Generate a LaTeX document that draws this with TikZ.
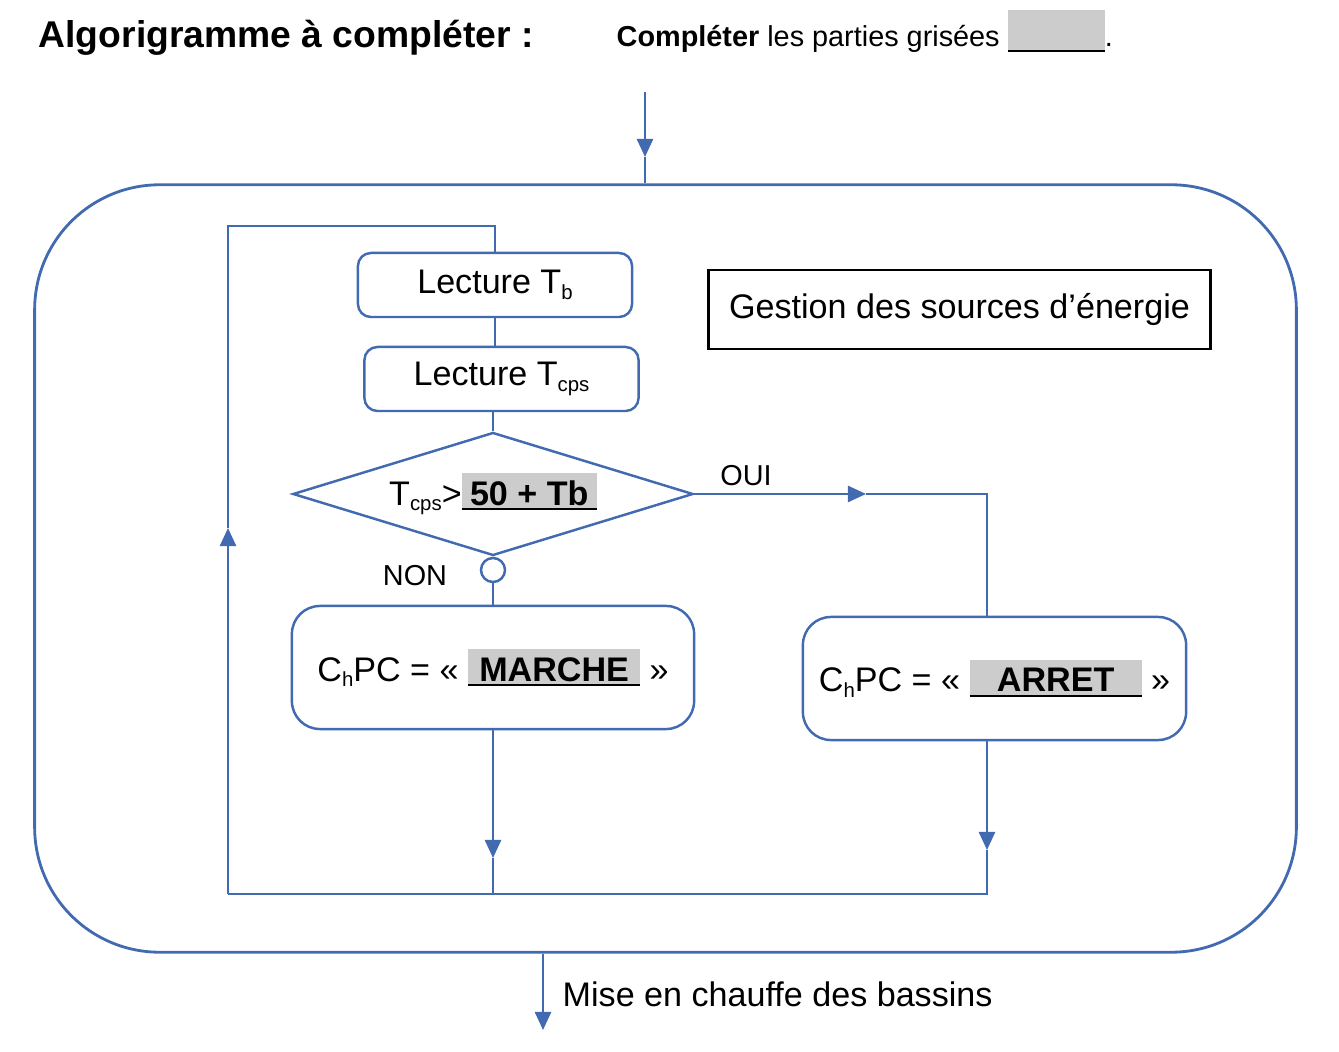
\documentclass[tikz,border=0pt]{standalone}
\usepackage{fontspec}
\setmainfont{Liberation Sans}
\usetikzlibrary{arrows.meta,shapes.geometric}
\definecolor{flowblue}{RGB}{65,106,176}
\definecolor{fieldgray}{RGB}{204,204,204}
% champ grise a completer
\newcommand{\grise}[2]{{\setlength{\fboxsep}{0pt}\colorbox{fieldgray}{\makebox[#1]{\rule[-0.15em]{0pt}{1.1em}\textbf{#2}}}}\llap{\rule[-0.15em]{#1}{0.6pt}}}
\newcommand{\vide}{{\setlength{\fboxsep}{0pt}\colorbox{fieldgray}{\rule[-0.17em]{0pt}{1.46em}\hspace{0.97cm}}}\llap{\rule[-0.17em]{0.97cm}{0.5pt}}}
\newcommand{\sub}[1]{\raisebox{-0.3ex}{\fontsize{5.8}{6}\selectfont #1}}
\tikzset{
  txt/.style={font=\fontsize{9.7}{11}\selectfont},
  petit/.style={font=\fontsize{8.2}{10}\selectfont},
  flow/.style={flowblue, line width=0.7pt},
  tip/.style={flow, -{Triangle[width=0.16cm,length=0.18cm]}},
  lecture/.style={draw=flowblue, line width=0.7pt, rounded corners=0.13cm, minimum width=2.74cm, minimum height=0.64cm, inner sep=0, txt},
  action/.style={draw=flowblue, line width=0.7pt, rounded corners=0.28cm, minimum height=1.23cm, inner sep=0, txt},
}
\begin{document}
\begin{tikzpicture}[x=0.01cm, y=-0.01cm]
\useasboundingbox (0,0) rectangle (1339,1052);

% titres
\node[anchor=base west, inner sep=0, font=\bfseries\fontsize{10.6}{12}\selectfont] (titre) at (38,48) {Algorigramme à compléter :};
\node[anchor=base west, inner sep=0, petit] (consigne) at (616,47) {\textbf{Compléter} les parties grisées \vide.};

% cadre general
\node[draw=flowblue, line width=0.8pt, rounded corners=1.25cm, minimum width=12.61cm, minimum height=7.67cm] (cadre) at (665.5,568.5) {};
\node[draw=black, line width=0.8pt, minimum width=5.01cm, minimum height=0.79cm, txt] (gestion) at (959.5,309.5) {Gestion des sources d’énergie};

% etapes
\node[lecture] (tb) at (495,285) {Lecture T\sub{b}};
\node[lecture] (tcps) at (501.5,379) {Lecture T\sub{cps}};
\node[diamond, aspect=3.25, draw=flowblue, line width=0.7pt, minimum width=4cm, minimum height=1.23cm, inner sep=0, txt] (test) at (493,494) {T\sub{cps}>\grise{1.35cm}{50 + Tb}};
\node[circle, draw=flowblue, line width=0.7pt, minimum size=0.24cm, inner sep=0, anchor=north] (jonction) at (test.south) {};
\node[action, minimum width=4.02cm] (marche) at (493,667.5) {C\sub{h}PC = « \grise{1.72cm}{MARCHE} »};
\node[action, minimum width=3.83cm] (arret) at (994.5,678.5) {C\sub{h}PC = « \grise{1.72cm}{ARRET} »};
\node[petit] (oui) at (746,476) {OUI};
\node[petit] (non) at (415,576) {NON};

% points de passage
\coordinate (entree) at (645,92);
\coordinate (entreeTip) at (645,157);
\coordinate (boucleHG) at (228,226);
\coordinate (boucleBG) at (228,894);
\coordinate (boucleTip) at (228,528);
\coordinate (boucleBD) at (987,894);
\coordinate (ouiTip) at (866,494);
\coordinate (marcheTip) at (493,858);
\coordinate (arretTip) at (987,850);
\coordinate (sortie) at (543,1030);

% liaisons
\draw[tip] (entree) -- (entreeTip);
\draw[flow] (entreeTip) -- (entree |- cadre.north);
\draw[tip] (boucleBG) -- (boucleTip);
\draw[flow] (boucleTip) -- (boucleHG) -| (tb.north);
\draw[flow] (tb.south) -- (tb.south |- tcps.north);
\draw[flow] (test.north |- tcps.south) -- (test.north);
\draw[tip] (test.east) -- (ouiTip);
\draw[flow] (ouiTip) -| (boucleBD |- arret.north);
\draw[flow] (jonction.south) -- (jonction.south |- marche.north);
\draw[tip] (marcheTip |- marche.south) -- (marcheTip);
\draw[flow] (marcheTip) -- (marcheTip |- boucleBG);
\draw[tip] (arretTip |- arret.south) -- (arretTip);
\draw[flow] (arretTip) -- (boucleBD) -- (boucleBG);
\draw[tip] (sortie |- cadre.south) -- (sortie);
\node[anchor=west, inner sep=0, txt] (chauffe) at (562,994) {Mise en chauffe des bassins};
\end{tikzpicture}
\end{document}
